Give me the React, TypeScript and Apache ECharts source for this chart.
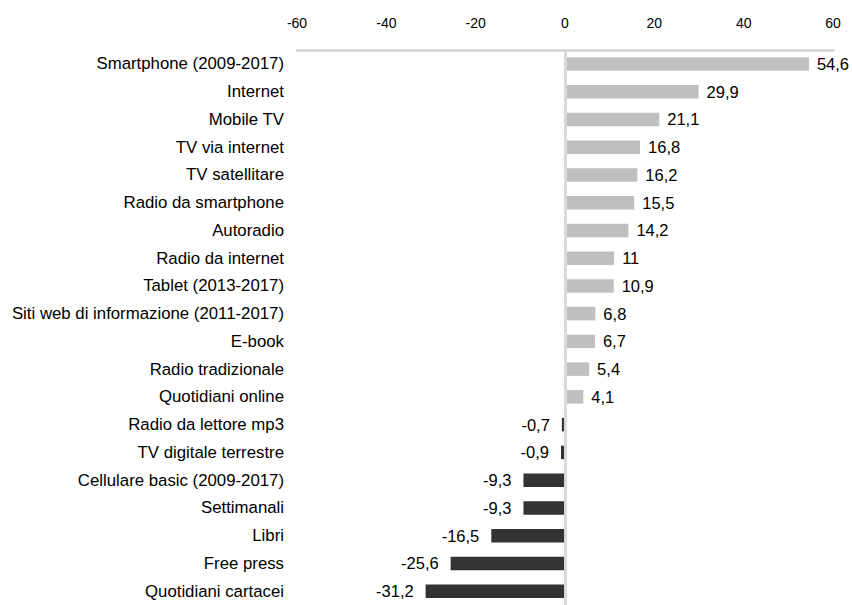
import React, { useEffect, useRef } from "react";
import * as echarts from "echarts";

const categories = [
  "Smartphone (2009-2017)",
  "Internet",
  "Mobile TV",
  "TV via internet",
  "TV satellitare",
  "Radio da smartphone",
  "Autoradio",
  "Radio da internet",
  "Tablet (2013-2017)",
  "Siti web di informazione (2011-2017)",
  "E-book",
  "Radio tradizionale",
  "Quotidiani online",
  "Radio da lettore mp3",
  "TV digitale terrestre",
  "Cellulare basic (2009-2017)",
  "Settimanali",
  "Libri",
  "Free press",
  "Quotidiani cartacei",
];

const values = [
  54.6, 29.9, 21.1, 16.8, 16.2, 15.5, 14.2, 11, 10.9, 6.8, 6.7, 5.4, 4.1,
  -0.7, -0.9, -9.3, -9.3, -16.5, -25.6, -31.2,
];

const tickMin = -60;
const tickMax = 60;
const tickStep = 20;

const FONT = "'Liberation Sans', Arial, sans-serif";

export default function App() {
  const ref = useRef<HTMLDivElement>(null);

  useEffect(() => {
    if (!ref.current) return;
    const chart = echarts.init(ref.current, undefined, { renderer: "svg" });
    const data = values.map((v) => ({
      value: v,
      itemStyle: { color: v >= 0 ? "#bfbfbf" : "#333333" },
      label: {
        position: v >= 0 ? "right" : "left",
        distance: v >= 0 ? 8 : 12,
      },
    }));
    chart.setOption({
      animation: false,
      backgroundColor: "#ffffff",
      grid: { left: 297, right: 19, top: 50, height: 560.6, containLabel: false },
      xAxis: {
        type: "value",
        position: "top",
        min: tickMin,
        max: tickMax,
        interval: tickStep,
        axisLine: { show: true, lineStyle: { color: "#d9d9d9", width: 3 } },
        axisTick: { show: false },
        splitLine: { show: false },
        axisLabel: {
          color: "#000",
          fontSize: 14,
          fontFamily: FONT,
          margin: 20,
        },
      },
      yAxis: {
        type: "category",
        data: categories,
        inverse: true,
        axisLine: { show: false, onZero: false },
        axisTick: { show: false },
        axisLabel: {
          color: "#000",
          fontSize: 16.8,
          fontFamily: FONT,
          margin: 13,
        },
      },
      series: [
        {
          type: "bar",
          data,
          barWidth: 13.5,
          label: {
            show: true,
            color: "#000",
            fontSize: 16.5,
            fontFamily: FONT,
            formatter: (p: any) => String(p.value).replace(".", ","),
          },
          markLine: {
            silent: true,
            symbol: "none",
            label: { show: false },
            lineStyle: { color: "#d9d9d9", width: 3, type: "solid" },
            data: [{ xAxis: 0 }],
          },
        },
      ],
    });
    return () => chart.dispose();
  }, []);

  return (
    <div
      ref={ref}
      style={{ position: "fixed", left: 0, top: 0, width: 852, height: 605 }}
    />
  );
}
